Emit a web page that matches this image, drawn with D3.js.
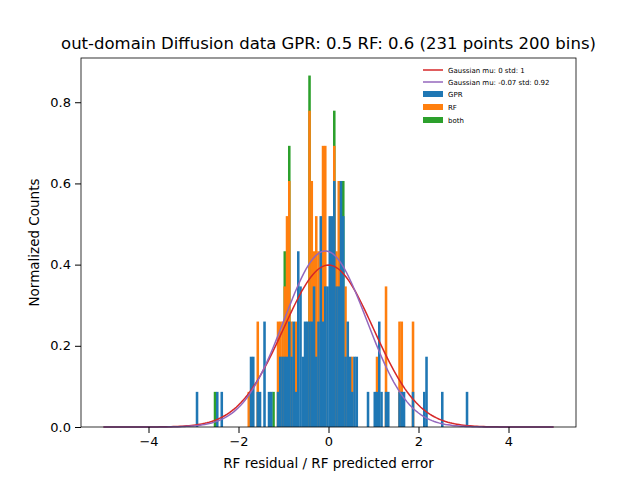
<!DOCTYPE html>
<html><head><meta charset="utf-8">
<script src="https://cdn.jsdelivr.net/npm/d3@7"></script>
<style>body{margin:0;background:#fff}text{font-family:"DejaVu Sans",sans-serif}</style>
</head><body>
<svg width="640" height="480"></svg>
<script>
// residual bin centres (approx) and counts per series, stacked GPR -> RF -> both
var centres = [-2.925,-2.525,-2.475,-2.375,-1.775,-1.725,-1.675,-1.575,-1.525,-1.425,-1.325,-1.275,-1.225,
    -1.125,-1.075,-1.025,-0.975,-0.925,-0.875,-0.825,-0.775,-0.725,-0.675,-0.625,-0.575,-0.525,-0.475,-0.425,-0.375,
    -0.325,-0.275,-0.225,-0.175,-0.125,-0.075,-0.025,0.025,0.075,0.125,0.175,0.225,0.275,0.325,0.375,0.425,0.475,
    0.525,0.575,0.625,0.875,1.025,1.075,1.125,1.175,1.275,1.325,1.575,1.625,1.675,1.875,2.125,2.175,2.525,3.075];
var gprCounts = [1,0,1,1,0,2,2,1,1,3,1,1,0,1,2,2,2,2,3,2,3,1,5,4,2,3,3,3,3,4,2,3,6,3,4,4,6,6,7,4,4,7,6,2,3,2,1,2,2,1,1,1,3,1,1,1,1,1,1,1,1,2,1,1];
var rfCounts  = [0,0,0,0,1,0,0,2,0,0,0,0,0,2,1,1,2,4,4,1,0,2,0,0,0,0,0,6,4,1,4,2,0,5,4,0,0,0,1,1,3,0,0,2,0,0,1,0,0,0,0,1,0,0,3,0,2,2,0,2,0,0,0,0];
var bothCounts= [0,1,0,0,0,0,0,0,0,0,0,0,1,0,0,0,1,0,1,0,0,0,0,0,0,0,0,1,0,0,0,0,0,0,0,0,0,0,1,0,0,0,1,0,0,0,0,0,0,0,0,0,0,0,0,0,0,0,0,0,0,0,0,0];
var nPoints = 231, nBins = 200, lo = -5, hi = 5;
var fits = [{label: "Gaussian mu: 0 std: 1", mu: 0, sd: 1, color: "#d62728"},
            {label: "Gaussian mu: -0.07 std: 0.92", mu: -0.07, sd: 0.92, color: "#9467bd"}];
var seriesNames = ["GPR", "RF", "both"];
var seriesColors = ["#1f77b4", "#ff7f0e", "#2ca02c"];

var svg = d3.select("svg"),
    margin = {top: 58, right: 64, bottom: 53, left: 81},
    width = 640 - margin.left - margin.right,
    height = 480 - margin.top - margin.bottom,
    g = svg.append("g").attr("transform", "translate(" + margin.left + "," + margin.top + ")");

var x = d3.scaleLinear().domain([-5.5, 5.5]).range([0, width]),
    y = d3.scaleLinear().domain([0, 0.909]).range([height, 0]);

var w = (hi - lo) / nBins, unit = 1 / (nPoints * w);
var bins = d3.range(nBins).map(function (i) { return {x0: lo + i * w, c: [0, 0, 0]}; });
centres.forEach(function (v, k) {
    var b = bins[Math.floor((v - lo) / w)];
    b.c[0] += gprCounts[k]; b.c[1] += rfCounts[k]; b.c[2] += bothCounts[k];
});

// draw tallest stack first so lower layers sit on top
for (var s = 2; s >= 0; s--) {
    g.selectAll(".bar" + s).data(bins.filter(function (b) { return b.c[s] > 0; }))
        .enter().append("rect")
        .attr("x", function (b) { return x(b.x0); })
        .attr("width", x(w) - x(0) + 0.3)
        .attr("y", function (b) { return y(d3.sum(b.c.slice(0, s + 1)) * unit); })
        .attr("height", function (b) { return y(0) - y(d3.sum(b.c.slice(0, s + 1)) * unit); })
        .attr("fill", seriesColors[s]);
}

var line = d3.line().x(function (d) { return x(d[0]); }).y(function (d) { return y(d[1]); });
fits.forEach(function (f) {
    var pts = d3.range(0, 201).map(function (i) {
        var v = -5 + i * 0.05;
        return [v, Math.exp(-0.5 * Math.pow((v - f.mu) / f.sd, 2)) / (f.sd * Math.sqrt(2 * Math.PI))];
    });
    g.append("path").attr("d", line(pts)).attr("fill", "none")
        .attr("stroke", f.color).attr("stroke-width", 1.5);
});

g.append("rect").attr("width", width).attr("height", height)
    .attr("fill", "none").attr("stroke", "#000").attr("stroke-width", 0.8);

g.append("g").attr("transform", "translate(0," + height + ")")
    .call(d3.axisBottom(x).tickValues([-4, -2, 0, 2, 4]).tickSizeOuter(0).tickPadding(4))
    .call(function (a) { a.select(".domain").remove(); a.selectAll("text").style("font-size", "13px"); });
g.append("g")
    .call(d3.axisLeft(y).tickValues([0, 0.2, 0.4, 0.6, 0.8]).tickFormat(d3.format(".1f")).tickSizeOuter(0).tickPadding(4))
    .call(function (a) { a.select(".domain").remove(); a.selectAll("text").style("font-size", "13px"); });

svg.append("text").attr("x", margin.left + width / 2).attr("y", 49).attr("text-anchor", "middle")
    .style("font-size", "16.5px").text("out-domain Diffusion data GPR: 0.5 RF: 0.6 (231 points 200 bins)");
svg.append("text").attr("x", margin.left + width / 2).attr("y", 468).attr("text-anchor", "middle")
    .style("font-size", "13.5px").text("RF residual / RF predicted error");
svg.append("text").attr("transform", "translate(39," + (margin.top + height / 2) + ") rotate(-90)")
    .attr("text-anchor", "middle").style("font-size", "13.5px").text("Normalized Counts");

var lg = svg.append("g").attr("transform", "translate(423,70)");
fits.forEach(function (f, i) {
    lg.append("line").attr("x1", 0).attr("x2", 20).attr("y1", i * 12).attr("y2", i * 12)
        .attr("stroke", f.color).attr("stroke-width", 1.5);
    lg.append("text").attr("x", 25).attr("y", i * 12 + 2.5).style("font-size", "7px").text(f.label);
});
seriesNames.forEach(function (n, i) {
    var yy = 24 + i * 13;
    lg.append("rect").attr("x", 0).attr("y", yy - 3).attr("width", 20).attr("height", 6).attr("fill", seriesColors[i]);
    lg.append("text").attr("x", 25).attr("y", yy + 2.5).style("font-size", "7px").text(n);
});
</script>
</body></html>
